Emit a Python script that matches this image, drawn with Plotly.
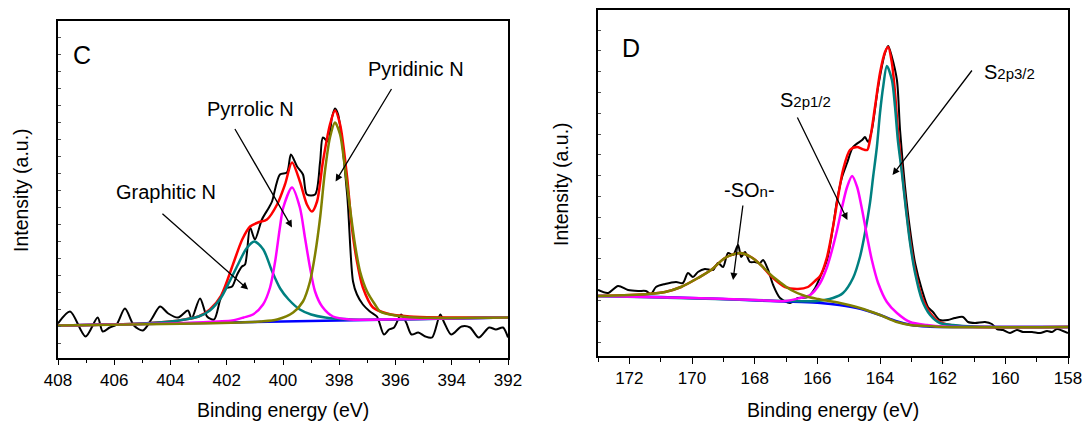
import plotly.graph_objects as go

# ---------------- Panel C (N 1s) ----------------
c_exp_e = [408.00, 407.57, 407.02, 406.59, 406.41, 406.16, 405.92, 405.62, 405.30, 404.98, 404.66, 404.37,
           404.08, 403.73, 403.38, 403.25, 402.95, 402.70, 402.45, 402.24, 402.06, 401.81, 401.63, 401.46,
           401.35, 401.17, 401.00, 400.75, 400.50, 400.39, 400.11, 399.86, 399.72, 399.50, 399.29, 399.15,
           398.86, 398.68, 398.58, 398.40, 398.26, 398.15, 398.04, 397.72, 397.51, 397.37, 397.16, 396.91,
           396.66, 396.41, 396.23, 396.05, 395.80, 395.62, 395.43, 395.19, 394.94, 394.70, 394.41, 394.27,
           394.02, 393.65, 393.35, 393.04, 392.67, 392.43, 392.18, 392.00]
c_exp_i = [34, 46, 21, 40, 26, 30, 33, 49, 32, 27, 39, 51,
           44, 40, 47, 39, 59, 41, 38, 57, 69, 71, 83, 91,
           93, 130, 118, 138, 150, 156, 183, 185, 203, 191, 183, 163,
           163, 196, 220, 216, 240, 249, 243, 163, 76, 63, 53, 46,
           41, 23, 28, 30, 43, 35, 23, 25, 21, 20, 43, 35,
           23, 31, 30, 20, 30, 28, 30, 20]

c_base_e = [408, 392]
c_base_i = [32, 40]

c_env_e = [408, 405, 404, 403.5, 403, 402.6, 402.2, 401.78, 401.45, 401.17, 400.89, 400.57, 400.21, 399.93,
           399.68, 399.40, 399.15, 398.97, 398.79, 398.58, 398.33, 398.15, 397.97, 397.72, 397.55, 397.37,
           397.16, 396.80, 396.3, 395.5, 392]
c_env_i = [32, 34, 36, 38, 41, 48, 62, 93, 118, 131, 135, 138, 153, 173,
           195, 176, 153, 146, 156, 196, 233, 247, 233, 180, 130, 96,
           70, 50, 44, 41, 40]

c_grap_e = [408, 406, 405, 404, 403.5, 403, 402.6, 402.2, 401.9, 401.6, 401.3, 401.02, 400.7, 400.4,
            400.1, 399.8, 399.4, 399.0, 398.5, 397.5, 396, 392]
c_grap_i = [32, 33, 34, 36, 38, 41, 47, 60, 76, 93, 109, 116, 108, 87,
            69, 58, 48, 43, 40, 38, 38, 40]

c_pyrr_e = [408, 404, 403, 402.3, 401.8, 401.4, 401.07, 400.71, 400.46, 400.28, 400.11, 399.99, 399.68,
            399.40, 399.22, 399.04, 398.86, 398.61, 398.22, 397.62, 396.5, 392]
c_pyrr_i = [32, 34, 35, 36, 37, 40, 43, 53, 70, 96, 130, 150, 170,
            150, 120, 90, 66, 51, 41, 38, 38, 40]

c_pyri_e = [408, 403, 401.5, 400.8, 400.21, 399.64, 399.29, 399.04, 398.86, 398.68, 398.51, 398.33, 398.15,
            397.97, 397.80, 397.62, 397.44, 397.26, 397.01, 396.73, 396.55, 396.0, 395.3, 392]
c_pyri_i = [32, 34, 35, 36, 38, 45, 56, 76, 103, 140, 186, 220, 235,
            223, 190, 150, 113, 86, 66, 53, 46, 42, 40, 40]

c_ticks = [408, 406, 404, 402, 400, 398, 396, 394, 392]

# ---------------- Panel D (S 2p) ----------------
d_exp_e = [173.00, 172.68, 172.36, 172.04, 171.72, 171.47, 171.31, 171.15, 170.86, 170.51, 170.29, 170.13,
           169.97, 169.81, 169.59, 169.33, 169.17, 169.01, 168.85, 168.69, 168.53, 168.43, 168.31, 168.15,
           167.99, 167.83, 167.73, 167.57, 167.41, 167.19, 166.87, 166.62, 166.30, 166.07, 165.91, 165.69,
           165.50, 165.37, 165.21, 165.05, 164.86, 164.57, 164.48, 164.38, 164.26, 164.06, 163.84, 163.74,
           163.62, 163.46, 163.36, 163.20, 163.04, 162.88, 162.66, 162.47, 162.31, 162.09, 161.83, 161.61,
           161.35, 161.19, 160.97, 160.65, 160.43, 160.27, 160.07, 159.85, 159.63, 159.44, 159.15, 158.89,
           158.67, 158.51, 158.35, 158.16, 158.00]
d_exp_i = [66, 63, 70, 66, 65, 65, 62, 69, 72, 74, 73, 83,
           79, 84, 87, 86, 93, 89, 103, 101, 111, 99, 104, 94,
           94, 93, 96, 86, 71, 58, 53, 58, 59, 68, 79, 96,
           129, 156, 179, 193, 209, 216, 219, 214, 226, 269, 303, 310,
           299, 276, 226, 169, 126, 93, 66, 49, 44, 36, 36, 38,
           39, 34, 33, 34, 32, 27, 26, 23, 26, 24, 24, 23,
           25, 24, 27, 25, 23]

d_base_e = [173, 171, 169, 167.5, 166.5, 165.9, 165.3, 164.6, 164.0, 163.5, 163.0, 162.5, 162.0, 158]
d_base_i = [60, 59, 57, 55, 54, 53, 51, 47, 41, 35, 31, 29.5, 29, 29]

d_env_e = [173, 171.4, 170.86, 170.35, 169.81, 169.39, 168.95, 168.47, 168.12, 167.80, 167.48, 167.03,
           166.62, 166.30, 166.04, 165.91, 165.69, 165.50, 165.34, 165.18, 164.96, 164.73, 164.57, 164.41,
           164.32, 164.16, 164.00, 163.84, 163.74, 163.62, 163.52, 163.43, 163.30, 163.17, 163.04, 162.88,
           162.66, 162.40, 162.09, 161.5, 158]
d_env_i = [60, 62, 64, 69, 78, 86, 98, 103, 99, 91, 80, 69,
           67, 69, 76, 80, 99, 129, 159, 186, 206, 209, 207, 206,
           216, 249, 283, 304, 309, 293, 263, 226, 186, 149, 116, 86,
           59, 43, 34, 30, 29]

d_sonx_e = [173, 171.4, 170.86, 170.35, 169.81, 169.39, 168.95, 168.47, 168.12, 167.80, 167.48, 167.16,
            166.84, 166.39, 165.98, 165.28, 164.64, 164.0, 163.46, 163.04, 162.5, 162.0, 158]
d_sonx_i = [60, 62, 64, 69, 78, 86, 98, 103, 99, 91, 81, 73,
            66, 60, 57, 53, 48, 41, 34, 31, 30, 29, 29]

d_p12_e = [173, 170, 168, 167, 166.55, 166.23, 165.91, 165.69, 165.53, 165.37, 165.21, 165.05, 164.89,
           164.73, 164.57, 164.41, 164.26, 164.06, 163.78, 163.46, 163.04, 162.5, 162.0, 158]
d_p12_i = [60, 58, 56, 55, 58, 61, 73, 89, 106, 126, 149, 169, 180,
           169, 146, 119, 96, 73, 54, 43, 34, 31, 29.5, 29]

d_p32_e = [173, 168, 167, 166.01, 165.50, 165.18, 164.86, 164.64, 164.48, 164.32, 164.22, 164.10, 164.00,
           163.90, 163.78, 163.62, 163.52, 163.43, 163.30, 163.17, 163.04, 162.88, 162.66, 162.40, 162.09,
           161.67, 161.0, 158]
d_p32_i = [60, 56, 55, 55, 58, 63, 78, 99, 123, 153, 179, 209, 243,
           269, 290, 276, 249, 216, 183, 146, 113, 83, 56, 41, 33,
           31, 29.5, 29]

d_ticks = [172, 170, 168, 166, 164, 162, 160, 158]

# ---------------- figure ----------------
W, H = 1085, 423
FONT = "Arial, Liberation Sans, sans-serif"

def px_x(p):
    return p / W

def px_y(p):
    return 1 - p / H

fig = go.Figure()

def add_line(x, y, color, width, xa, ya, smooth=False):
    fig.add_trace(go.Scatter(x=x, y=y, mode="lines", xaxis=xa, yaxis=ya,
                             line=dict(color=color, width=width,
                                       shape="spline" if smooth else "linear",
                                       smoothing=0.8),
                             hoverinfo="skip", showlegend=False))

BLACK, RED, TEAL, MAG, OLIVE, BLUE = "#000000", "#FF0000", "#008080", "#FF00FF", "#808000", "#0000FF"

# Panel C
add_line(c_exp_e, c_exp_i, BLACK, 2, "x", "y", True)
add_line(c_base_e, c_base_i, BLUE, 2.5, "x", "y")
add_line(c_env_e, c_env_i, RED, 2.5, "x", "y", True)
add_line(c_grap_e, c_grap_i, TEAL, 2.5, "x", "y", True)
add_line(c_pyrr_e, c_pyrr_i, MAG, 2.5, "x", "y", True)
add_line(c_pyri_e, c_pyri_i, OLIVE, 2.5, "x", "y", True)

# Panel D
add_line(d_exp_e, d_exp_i, BLACK, 2, "x2", "y2", True)
add_line(d_base_e, d_base_i, BLUE, 2.5, "x2", "y2", True)
add_line(d_env_e, d_env_i, RED, 2.5, "x2", "y2", True)
add_line(d_p32_e, d_p32_i, TEAL, 2.5, "x2", "y2", True)
add_line(d_p12_e, d_p12_i, MAG, 2.5, "x2", "y2", True)
add_line(d_sonx_e, d_sonx_i, OLIVE, 2.5, "x2", "y2", True)

def xaxis_cfg(rng, ticks, dom):
    return dict(domain=dom, range=rng, tickmode="array", tickvals=ticks, automargin=False,
                ticktext=[str(t) for t in ticks], ticks="outside", ticklen=6, tickwidth=1.3,
                tickcolor="black", showline=True, linecolor="black", linewidth=1.5, mirror=True,
                showgrid=False, zeroline=False,
                tickfont=dict(family=FONT, size=17, color="black"),
                minor=dict(dtick=1, tick0=0, ticks="outside", ticklen=4, tickwidth=1.1, tickcolor="black"))

def yaxis_cfg(rng, dom, anchor, tick0, dtick):
    return dict(domain=dom, range=rng, anchor=anchor, showticklabels=False, automargin=False,
                ticks="inside", ticklen=3, tickwidth=1, tickcolor="#555555",
                tickmode="linear", tick0=tick0, dtick=dtick,
                showline=True, linecolor="black", linewidth=1.5, mirror=True,
                showgrid=False, zeroline=False)

fig.update_layout(
    template="none",
    width=W, height=H, autosize=False,
    margin=dict(l=0, r=0, t=0, b=0, pad=0),
    paper_bgcolor="white", plot_bgcolor="white",
    xaxis=dict(**xaxis_cfg([408, 392], c_ticks, [px_x(58), px_x(508)]), anchor="y"),
    yaxis=yaxis_cfg([0, 336.5], [px_y(357.5), px_y(21)], "x", 14.3, 17),
    xaxis2=dict(**xaxis_cfg([173, 158], d_ticks, [px_x(598), px_x(1068)]), anchor="y2"),
    yaxis2=yaxis_cfg([0, 346], [px_y(356), px_y(10)], "x2", 14, 20.8),
)

def label(text, x, y, xa, ya, size=20):
    fig.add_annotation(text=text, x=x, y=y, xref=xa, yref=ya, showarrow=False,
                       font=dict(family=FONT, size=size, color="black"),
                       xanchor="center", yanchor="middle")

def arrow(x, y, ax, ay, xa, ya):
    fig.add_annotation(x=x, y=y, ax=ax, ay=ay, xref=xa, yref=ya, axref=xa, ayref=ya,
                       text="", showarrow=True, arrowhead=2, arrowsize=1.1,
                       arrowwidth=1.3, arrowcolor="black")

# Panel C labels
label("C", 407.15, 302, "x", "y", 25)
label("Pyridinic N", 395.27, 288, "x", "y")
label("Pyrrolic N", 401.17, 248, "x", "y")
label("Graphitic N", 404.16, 165, "x", "y")
arrow(398.13, 176, 396.11, 270, "x", "y")
arrow(399.68, 130, 401.74, 230, "x", "y")
arrow(401.24, 68, 404.34, 145, "x", "y")

# Panel D labels
small = "font-size:15px"
label("D", 171.95, 308, "x2", "y2", 25)
label("-SO<span style='%s'>n</span>-" % small, 168.15, 166, "x2", "y2")
label("S<span style='%s'>2p1/2</span>" % small, 166.39, 256, "x2", "y2")
label("S<span style='%s'>2p3/2</span>" % small, 159.88, 284, "x2", "y2")
arrow(168.69, 76, 168.37, 152, "x2", "y2")
arrow(165.04, 136, 166.66, 240, "x2", "y2")
arrow(163.60, 181, 161.03, 287, "x2", "y2")

# Axis titles
for cx, cy in [((58 + 508) / 2, 410), ((598 + 1068) / 2, 410)]:
    fig.add_annotation(text="Binding energy (eV)", x=px_x(cx), y=px_y(cy), xref="paper", yref="paper",
                       showarrow=False, font=dict(family=FONT, size=19.5, color="black"),
                       xanchor="center", yanchor="middle")
for cx, cy in [(21, 190), (561, 184)]:
    fig.add_annotation(text="Intensity (a.u.)", x=px_x(cx), y=px_y(cy), xref="paper", yref="paper",
                       showarrow=False, textangle=-90, font=dict(family=FONT, size=19.5, color="black"),
                       xanchor="center", yanchor="middle")

# remove the default page margin so the 1085x423 figure fills the window exactly
fig.write_html("out.html", config={"displayModeBar": False},
               post_script="document.body.style.margin='0';document.body.style.overflow='hidden';")
